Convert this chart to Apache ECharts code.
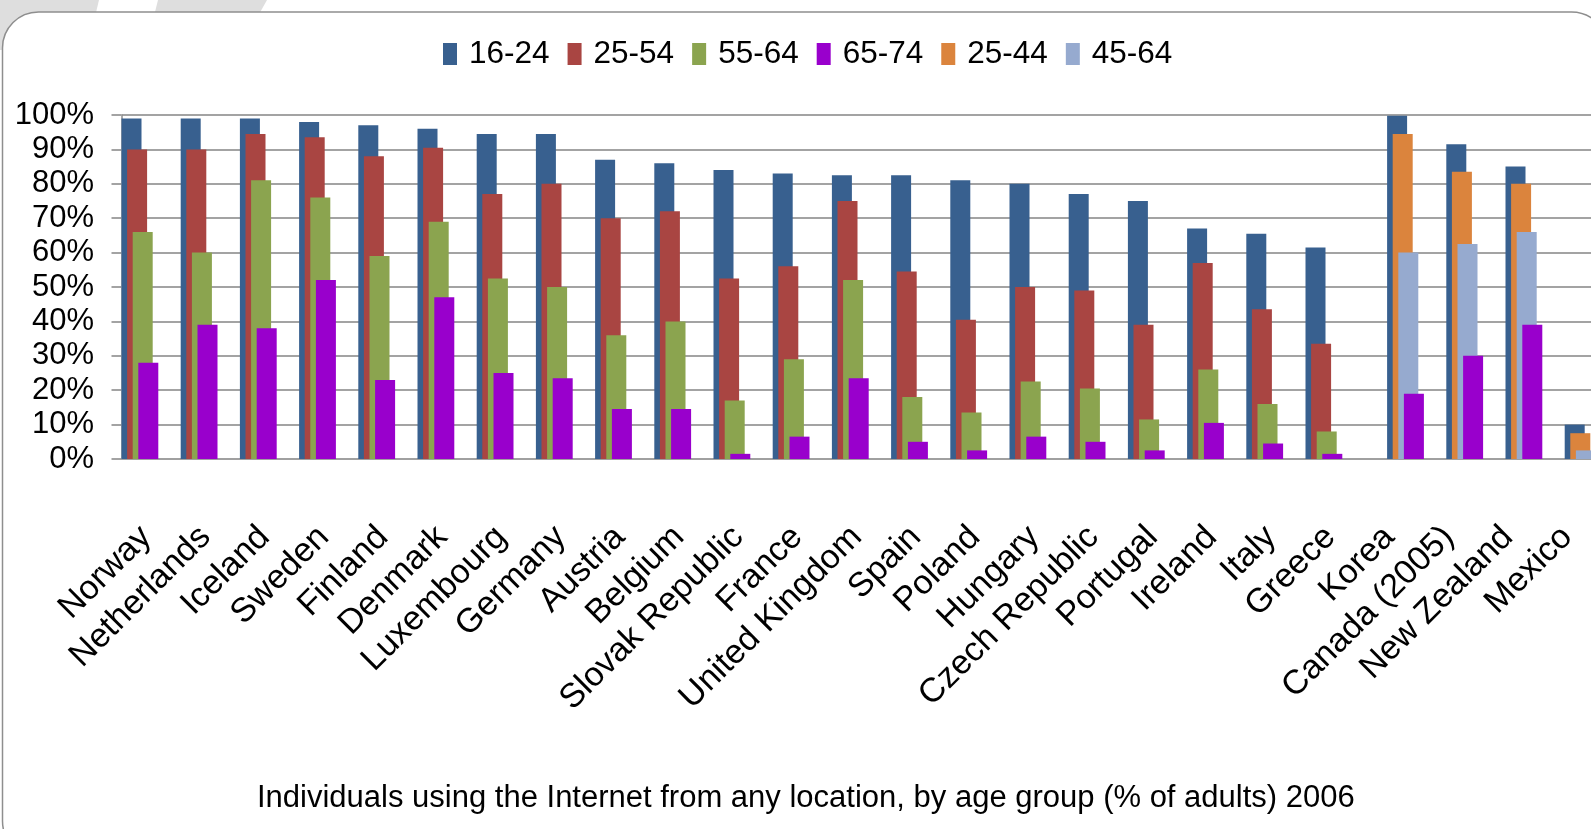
<!DOCTYPE html>
<html>
<head>
<meta charset="utf-8">
<script src="https://cdn.jsdelivr.net/npm/echarts@6/dist/echarts.min.js"></script>
<style>
  html, body { margin: 0; padding: 0; background: #ffffff; }
  #chart { width: 1591px; height: 829px; }
</style>
</head>
<body>
<div id="chart"></div>
<script>
// Countries along the category axis
const countries = [
  'Norway', 'Netherlands', 'Iceland', 'Sweden', 'Finland', 'Denmark',
  'Luxembourg', 'Germany', 'Austria', 'Belgium', 'Slovak Republic', 'France',
  'United Kingdom', 'Spain', 'Poland', 'Hungary', 'Czech Republic', 'Portugal',
  'Ireland', 'Italy', 'Greece', 'Korea', 'Canada (2005)', 'New Zealand', 'Mexico'
];

// Countries reporting the 25-44 / 45-64 bands instead of 25-54 / 55-64
const altBandCountries = ['Korea', 'Canada (2005)', 'New Zealand', 'Mexico'];

// Share of individuals using the Internet, % by age group (null = not reported)
const age16to24 = [99, 99, 99, 98, 97, 96, 94.5, 94.5, 87, 86, 84, 83, 82.5, 82.5, 81, 80, 77, 75, 67, 65.5, 61.5, 99.8, 91.5, 85, 10];
const age25to54 = [90, 90, 94.5, 93.5, 88, 90.5, 77, 80, 70, 72, 52.5, 56, 75, 54.5, 40.5, 50, 49, 39, 57, 43.5, 33.5, null, null, null, null];
const age55to64 = [66, 60, 81, 76, 59, 69, 52.5, 50, 36, 40, 17, 29, 52, 18, 13.5, 22.5, 20.5, 11.5, 26, 16, 8, null, null, null, null];
const age65to74 = [28, 39, 38, 52, 23, 47, 25, 23.5, 14.5, 14.5, 1.5, 6.5, 23.5, 5, 2.5, 6.5, 5, 2.5, 10.5, 4.5, 1.5, 19, 30, 39, null];
const age25to44 = [null, null, null, null, null, null, null, null, null, null, null, null, null, null, null, null, null, null, null, null, null, 94.5, 83.5, 80, 7.5];
const age45to64 = [null, null, null, null, null, null, null, null, null, null, null, null, null, null, null, null, null, null, null, null, null, 60, 62.5, 66, 2.5];

const legendNames = ['16-24', '25-54', '55-64', '65-74', '25-44', '45-64'];

// Value-axis ticks
const yMin = 0, yMax = 100, yStep = 10;

const textFont = '"Liberation Sans", Arial, Helvetica, sans-serif';

const colors = {
  '16-24': '#38608f',
  '25-54': '#a94542',
  '55-64': '#8ba44f',
  '65-74': '#9900cc',
  '25-44': '#db843d',
  '45-64': '#96aacf'
};

// Keep only the entries of countries in (or out of) the alternative-band group
const isAlt = countries.map(c => altBandCountries.includes(c));
const pick = (values, alt) => values.map((v, i) => (isAlt[i] === alt ? v : null));

function ageBars(name, data) {
  return {
    name: name,
    type: 'bar',
    data: data,
    barGap: '-72%',
    barCategoryGap: 0,
    itemStyle: { color: colors[name] },
    emphasis: { disabled: true }
  };
}

const chart = echarts.init(document.getElementById('chart'));

chart.setOption({
  animation: false,
  backgroundColor: '#ffffff',
  graphic: [
    { type: 'polygon', silent: true, z: -3,
      shape: { points: [[0, 0], [99, 0], [87, 50], [0, 50]] },
      style: { fill: '#dedede' } },
    { type: 'polygon', silent: true, z: -3,
      shape: { points: [[158, 0], [267, 0], [258, 16], [154, 16]] },
      style: { fill: '#dedede' } },
    { type: 'rect', silent: true, z: -2,
      shape: { x: 2.5, y: 12, width: 1605, height: 845, r: 36 },
      style: { fill: '#ffffff', stroke: '#8e8e8e', lineWidth: 1.5 } }
  ],
  title: {
    text: 'Individuals using the Internet from any location, by age group (% of adults) 2006',
    left: 252,
    top: 778,
    textStyle: { fontFamily: textFont, fontSize: 31, fontWeight: 'normal', color: '#000000' }
  },
  legend: {
    data: legendNames,
    left: 438,
    top: 33,
    icon: 'rect',
    itemWidth: 14,
    itemHeight: 22,
    itemGap: 18,
    selectedMode: false,
    textStyle: { fontFamily: textFont, fontSize: 31.5, color: '#000000', padding: [0, 0, 0, 7] }
  },
  grid: {
    left: 121.5,
    top: 115,
    width: 1480,
    height: 344,
    containLabel: false,
    outerBoundsMode: 'none'
  },
  xAxis: {
    type: 'category',
    data: countries,
    boundaryGap: true,
    axisLine: { show: true, lineStyle: { color: '#a0a0a0', width: 2 } },
    axisTick: { show: false },
    splitLine: { show: false },
    axisLabel: {
      interval: 0,
      rotate: 45,
      align: 'right',
      verticalAlign: 'middle',
      margin: 68,
      padding: [0, 7, 0, 0],
      fontFamily: textFont,
      fontSize: 34,
      color: '#000000'
    }
  },
  yAxis: {
    type: 'value',
    min: yMin,
    max: yMax,
    interval: yStep,
    axisLine: { show: true, lineStyle: { color: '#8c8c8c', width: 1.5 } },
    axisTick: { show: true, inside: false, length: 10, lineStyle: { color: '#a3a3a3', width: 2 } },
    splitLine: { show: true, lineStyle: { color: '#a3a3a3', width: 2 } },
    axisLabel: {
      formatter: '{value}%',
      showMinLabel: true,
      showMaxLabel: true,
      margin: 27.5,
      fontFamily: textFont,
      fontSize: 31,
      color: '#000000'
    }
  },
  series: [
    ageBars('16-24', pick(age16to24, false)),
    ageBars('25-54', age25to54),
    ageBars('55-64', age55to64),
    ageBars('65-74', pick(age65to74, false)),
    ageBars('16-24', pick(age16to24, true)),
    ageBars('25-44', age25to44),
    ageBars('45-64', age45to64),
    ageBars('65-74', pick(age65to74, true))
  ]
});
</script>
</body>
</html>
